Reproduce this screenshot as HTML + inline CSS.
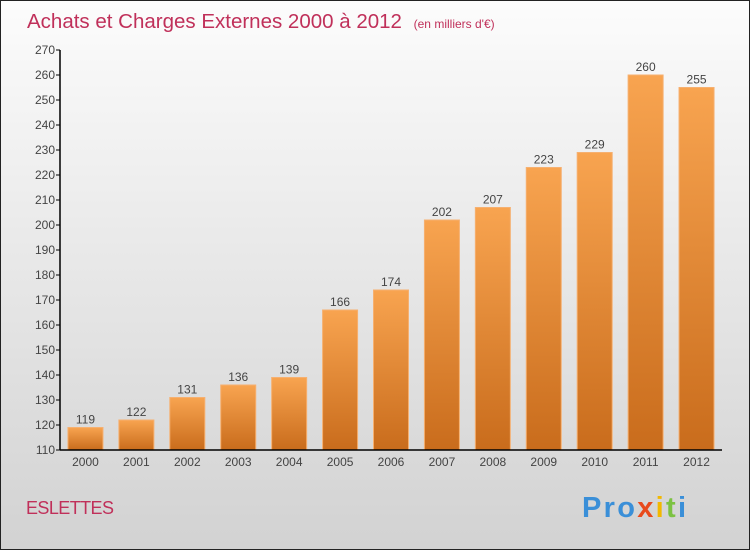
<!DOCTYPE html>
<html><head><meta charset="utf-8"><style>
body{margin:0;}
svg{display:block;font-family:"Liberation Sans",sans-serif;}
</style></head><body>
<svg id="c" width="750" height="550" viewBox="0 0 750 550">
<defs>
<linearGradient id="bg" x1="0" y1="0" x2="0" y2="1"><stop offset="0" stop-color="#fcfcfc"/><stop offset="1" stop-color="#d2d2d2"/></linearGradient>
<linearGradient id="bar" x1="0" y1="0" x2="0" y2="1"><stop offset="0" stop-color="#f8a450"/><stop offset="1" stop-color="#c96c1c"/></linearGradient>
</defs>
<rect x="0.5" y="0.5" width="749" height="549" fill="url(#bg)" stroke="#222"/>
<text x="27" y="28" font-size="20.5" fill="#c0305a">Achats et Charges Externes 2000 à 2012 <tspan font-size="12" dx="6">(en milliers d'€)</tspan></text>
<text x="26" y="514" font-size="18" fill="#c0305a" textLength="88">ESLETTES</text>
<text x="582" y="517" font-size="29" font-weight="bold" textLength="104"><tspan fill="#3a8fd8">Pro</tspan><tspan fill="#e84a1c">x</tspan><tspan fill="#f2b800">i</tspan><tspan fill="#7cc242">t</tspan><tspan fill="#3a8fd8">i</tspan></text>
<g id="plot"></g>
</svg>
<script>
const years=["2000","2001","2002","2003","2004","2005","2006","2007","2008","2009","2010","2011","2012"];
const values=[119,122,131,136,139,166,174,202,207,223,229,260,255];
const ticks=[110,120,130,140,150,160,170,180,190,200,210,220,230,240,250,260,270];
const NS="http://www.w3.org/2000/svg";
const g=document.getElementById('plot');
const x0=60,x1=722,yTop=50,yBot=450,vMin=110,vMax=270;
const y=v=>yBot-(v-vMin)/(vMax-vMin)*(yBot-yTop);
const step=(x1-x0)/years.length;
const xc=i=>x0+step*(i+0.5);
function mk(t,a){const e=document.createElementNS(NS,t);for(const k in a)e.setAttribute(k,a[k]);g.appendChild(e);return e;}
ticks.forEach(t=>{
  const l=mk('line',{x1:x0-4,x2:x0,y1:y(t),y2:y(t),stroke:'#000'});
  
  
  const tx=mk('text',{x:x0-5,y:y(t)+4,'text-anchor':'end','font-size':12,fill:'#444'});
  tx.textContent=t;
  
  
});
values.forEach((v,i)=>{
  const bw=35;
  const r=mk('rect',{x:xc(i)-bw/2,y:y(v),width:bw,height:yBot-y(v),fill:'url(#bar)',stroke:'#f6b070','stroke-width':1});
  
  
  const vl=mk('text',{x:xc(i),y:y(v)-4,'text-anchor':'middle','font-size':12,fill:'#444'});
  vl.textContent=v;
  
  
  const xl=mk('text',{x:xc(i),y:yBot+16,'text-anchor':'middle','font-size':12,fill:'#444'});
  xl.textContent=years[i];
  
  
});
const ya=mk('line',{x1:x0,x2:x0,y1:yTop,y2:yBot,stroke:'#000','stroke-width':1.5});


const xa=mk('line',{x1:x0,x2:x1,y1:yBot,y2:yBot,stroke:'#000','stroke-width':1.5});


</script>
</body></html>
